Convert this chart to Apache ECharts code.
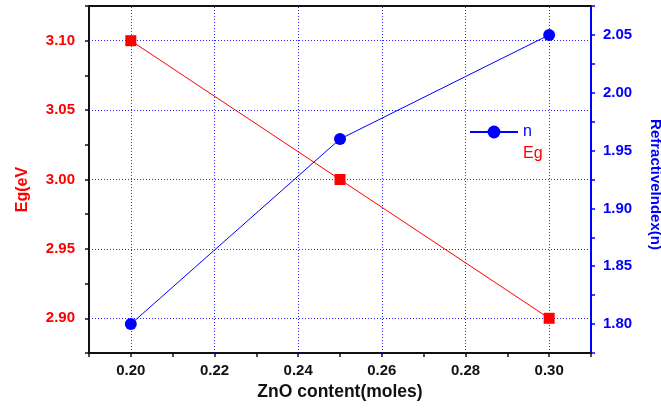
<!DOCTYPE html>
<html>
<head>
<meta charset="utf-8">
<script src="https://cdn.jsdelivr.net/npm/echarts@6/dist/echarts.min.js"></script>
<style>html,body{margin:0;padding:0;background:#fff;}#c{width:661px;height:411px;}</style>
</head>
<body>
<div id="c"></div>
<script>
const zno = [0.20, 0.25, 0.30];
const egValues = [3.10, 3.00, 2.90];
const nValues = [1.80, 1.96, 2.05];
const xTickLabels = ['0.20', '0.22', '0.24', '0.26', '0.28', '0.30'];
const egTickLabels = ['2.90', '2.95', '3.00', '3.05', '3.10'];
const nTickLabels = ['1.80', '1.85', '1.90', '1.95', '2.00', '2.05'];

const FONT = '"Liberation Sans", Arial, sans-serif';
const RED = '#ff0000', BLUE = '#0000ff';
const pick = (labels) => (v) => { const s = v.toFixed(2); return labels.includes(s) ? s : ''; };
const gridStyle = { color: BLUE, width: 1, type: [1, 2], opacity: 0.85 };

const chart = echarts.init(document.getElementById('c'), null, { renderer: 'canvas' });
chart.setOption({
  animation: false,
  backgroundColor: '#fff',
  grid: { left: 89, right: 70, top: 6, bottom: 58, containLabel: false, outerBoundsMode: 'none' },
  legend: {
    orient: 'vertical', left: 469, top: 124, padding: 0, itemWidth: 48, itemHeight: 16, itemGap: 6,
    textStyle: { fontFamily: FONT, fontSize: 16 },
    data: [
      { name: 'n', textStyle: { color: BLUE } },
      { name: 'Eg', icon: 'none', textStyle: { color: RED } }
    ]
  },
  xAxis: [{
    type: 'value', min: 0.19, max: 0.31, interval: 0.01, position: 'bottom',
    name: 'ZnO content(moles)', nameLocation: 'middle', nameGap: 30,
    nameTextStyle: { fontFamily: FONT, fontSize: 17.5, fontWeight: 'bold', color: '#111' },
    axisLine: { onZero: false, lineStyle: { color: '#111', width: 2 } },
    axisTick: { inside: false, length: 4, lineStyle: { color: '#111', width: 1.5 } },
    axisLabel: { formatter: pick(xTickLabels), fontFamily: FONT, fontSize: 15, fontWeight: 'bold', color: '#111', margin: 10 },
    splitLine: { show: false }
  }, {
    type: 'value', min: 0.19, max: 0.31, position: 'top',
    axisLine: { onZero: false, lineStyle: { color: '#111', width: 2 } },
    axisTick: { show: false }, axisLabel: { show: false }, splitLine: { show: false }
  }],
  yAxis: [{
    type: 'value', min: 2.875, max: 3.125, interval: 0.025, position: 'left',
    name: 'Eg(eV', nameLocation: 'middle', nameGap: 58, nameRotate: 90,
    nameTextStyle: { fontFamily: FONT, fontSize: 16, fontWeight: 'bold', color: RED, padding: [0, 0, 0, -20] },
    axisLine: { onZero: false, lineStyle: { color: '#111', width: 2 } },
    axisTick: { inside: false, length: 4, lineStyle: { color: '#111', width: 1.5 } },
    axisLabel: { formatter: pick(egTickLabels), fontFamily: FONT, fontSize: 15, fontWeight: 'bold', color: RED, margin: 14 },
    splitLine: { show: false }
  }, {
    type: 'value', min: 1.775, max: 2.075, interval: 0.025, position: 'right',
    name: 'RefractiveIndex(n)', nameLocation: 'middle', nameGap: 57, nameRotate: -90,
    nameTextStyle: { fontFamily: FONT, fontSize: 15, fontWeight: 'bold', color: BLUE, padding: [0, 0, 0, 10] },
    axisLine: { onZero: false, lineStyle: { color: BLUE, width: 2 } },
    axisTick: { inside: false, length: 4, lineStyle: { color: BLUE, width: 1.5 } },
    axisLabel: { formatter: pick(nTickLabels), fontFamily: FONT, fontSize: 15, fontWeight: 'bold', color: BLUE, margin: 12 },
    splitLine: { show: false }
  }],
  series: [{
    name: 'Eg', type: 'line', xAxisIndex: 0, yAxisIndex: 0,
    data: zno.map((x, i) => [x, egValues[i]]),
    symbol: 'rect', symbolSize: 11,
    itemStyle: { color: RED }, lineStyle: { color: RED, width: 1 },
    z: 3,
    markLine: {
      silent: true, symbol: ['none', 'none'], label: { show: false },
      lineStyle: gridStyle, z: 1,
      data: egTickLabels.map(s => ({ yAxis: parseFloat(s) }))
        .concat(xTickLabels.map(s => ({ xAxis: parseFloat(s) })))
    }
  }, {
    name: 'n', type: 'line', xAxisIndex: 0, yAxisIndex: 1,
    data: zno.map((x, i) => [x, nValues[i]]),
    symbol: 'circle', symbolSize: 12,
    itemStyle: { color: BLUE }, lineStyle: { color: BLUE, width: 1 },
    z: 4
  }]
});
</script>
</body>
</html>
